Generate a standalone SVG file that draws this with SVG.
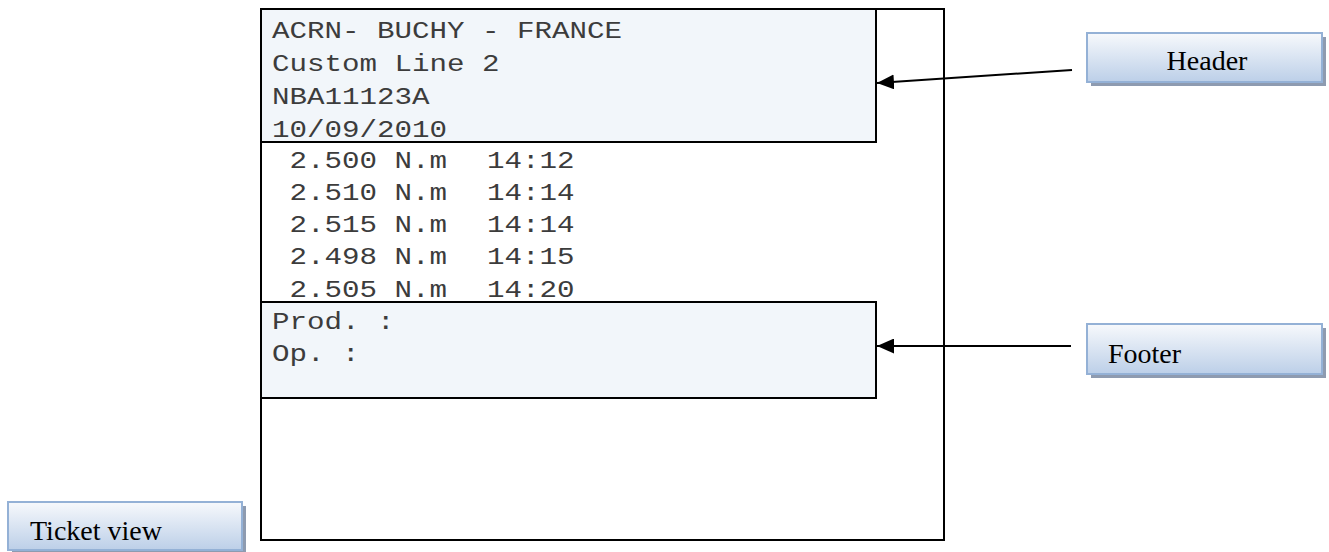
<svg xmlns="http://www.w3.org/2000/svg" width="1329" height="552" viewBox="0 0 1329 552">
<style>
.mono{font-family:"Liberation Mono","Courier New",monospace;font-size:24px;fill:#3c3c3c}
.lbl{font-family:"Liberation Serif","Times New Roman",serif;font-size:28px;fill:#000}
.panel{fill:#f2f6fa;stroke:#000;stroke-width:2}
.lblbox{fill:url(#lg);stroke:#94b1d6;stroke-width:2}
.shadow{fill:#8e9bb0}
.conn{stroke:#000;stroke-width:2;fill:none;marker-end:url(#ah)}
</style>
<defs>
<linearGradient id="lg" x1="0" y1="0" x2="0" y2="1">
<stop offset="0" stop-color="#f7f9fc"/>
<stop offset="1" stop-color="#bccfe8"/>
</linearGradient>
<marker id="ah" viewBox="0 0 17 15" refX="17" refY="7.5" markerWidth="17" markerHeight="15" markerUnits="userSpaceOnUse" orient="auto">
<path d="M0,0 L17,7.5 L0,15 Z" fill="#000"/>
</marker>
</defs>
<g id="ticket">
<rect x="261" y="9" width="683" height="531" fill="#fff" stroke="#000" stroke-width="2"/>
</g>
<g id="header-panel">
<rect class="panel" x="261" y="9" width="615" height="133"/>
<text class="mono" x="272" y="38" textLength="350" lengthAdjust="spacingAndGlyphs">ACRN- BUCHY - FRANCE</text>
<text class="mono" x="272" y="71" textLength="227.5" lengthAdjust="spacingAndGlyphs">Custom Line 2</text>
<text class="mono" x="272" y="104" textLength="157.5" lengthAdjust="spacingAndGlyphs">NBA11123A</text>
<text class="mono" x="272" y="136.5" textLength="175" lengthAdjust="spacingAndGlyphs">10/09/2010</text>
</g>
<g id="data-rows">
<text class="mono" x="289.5" y="168" textLength="157.5" lengthAdjust="spacingAndGlyphs">2.500 N.m</text>
<text class="mono" x="487" y="168" textLength="87.5" lengthAdjust="spacingAndGlyphs">14:12</text>
<text class="mono" x="289.5" y="200" textLength="157.5" lengthAdjust="spacingAndGlyphs">2.510 N.m</text>
<text class="mono" x="487" y="200" textLength="87.5" lengthAdjust="spacingAndGlyphs">14:14</text>
<text class="mono" x="289.5" y="232" textLength="157.5" lengthAdjust="spacingAndGlyphs">2.515 N.m</text>
<text class="mono" x="487" y="232" textLength="87.5" lengthAdjust="spacingAndGlyphs">14:14</text>
<text class="mono" x="289.5" y="264" textLength="157.5" lengthAdjust="spacingAndGlyphs">2.498 N.m</text>
<text class="mono" x="487" y="264" textLength="87.5" lengthAdjust="spacingAndGlyphs">14:15</text>
<text class="mono" x="289.5" y="296.5" textLength="157.5" lengthAdjust="spacingAndGlyphs">2.505 N.m</text>
<text class="mono" x="487" y="296.5" textLength="87.5" lengthAdjust="spacingAndGlyphs">14:20</text>
</g>
<g id="footer-panel">
<rect class="panel" x="261" y="302" width="615" height="96"/>
<text class="mono" x="272" y="329" textLength="122.5" lengthAdjust="spacingAndGlyphs">Prod. :</text>
<text class="mono" x="272" y="361" textLength="87.5" lengthAdjust="spacingAndGlyphs">Op. :</text>
</g>
<g id="label-header">
<rect class="shadow" x="1091" y="37" width="235" height="49"/>
<rect class="lblbox" x="1087" y="33" width="235" height="49"/>
<text class="lbl" x="1207" y="70" text-anchor="middle">Header</text>
</g>
<g id="label-footer">
<rect class="shadow" x="1091" y="328" width="235" height="50"/>
<rect class="lblbox" x="1087" y="324" width="235" height="50"/>
<text class="lbl" x="1108" y="363">Footer</text>
</g>
<g id="label-ticket-view">
<rect class="shadow" x="12" y="506" width="234" height="46"/>
<rect class="lblbox" x="8" y="502" width="234" height="48"/>
<text class="lbl" x="30" y="540">Ticket view</text>
</g>
<g id="connectors">
<line class="conn" x1="1072" y1="70" x2="877" y2="83"/>
<line class="conn" x1="1071" y1="346" x2="877" y2="346"/>
</g>
</svg>
